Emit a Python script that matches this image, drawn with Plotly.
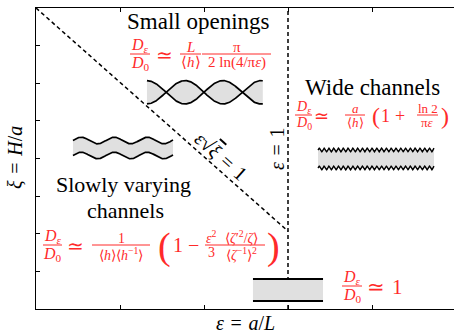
import numpy as np
import plotly.graph_objects as go

# ---- regime diagram geometry (axis units) ----
X_TICKS = [0, 1, 2, 3, 4, 5]
Y_TICKS = [0, 1, 2, 3, 4, 5, 6, 7, 8]
X_MAX = 418 / 84
Y_MAX = 8

EPS_ONE = 3.0                 # position of the  eps = 1  boundary
DIAG_X = [0.0, 3.0]           # eps*sqrt(xi) = 1 boundary
DIAG_Y = [8.0, 2.07]

# channel sketches: x-extent, wall centres, wall amplitude, wavelength
PINCHED = dict(x=[1.321, 2.70], centre=5.76, amp=0.31, wavelength=0.905)
SLOW = dict(x=[0.44, 1.631], top=4.478, bottom=4.080, amp=0.088, wavelength=0.393)
WIDE = dict(x=[3.357, 4.738], top=4.226, bottom=3.748, amp=0.05, wavelength=0.057)
FLAT = dict(x=[2.583, 3.417], top=0.797, bottom=0.213)

W, H = 454, 336
L_, R_, T_, B_ = 36, 454, 8, 309

RED = "#ff2a2a"
GRAY = "#e0e0e0"
SERIF = "Liberation Serif, Times New Roman, serif"
SP = "\u2004"   # medium math space around relations

fig = go.Figure()


def line_trace(x, y, **kw):
    fig.add_trace(go.Scatter(x=x, y=y, mode="lines", hoverinfo="skip", showlegend=False, **kw))


# boundaries
line_trace([EPS_ONE, EPS_ONE], [0, Y_MAX], line=dict(color="black", width=1.5, dash="4px,3px"))
line_trace(DIAG_X, DIAG_Y, line=dict(color="black", width=1.5, dash="4px,3px"))


def channel(x, lower, upper, lw=1.7):
    line_trace(x, lower, line=dict(color="black", width=lw))
    line_trace(x, upper, line=dict(color="black", width=lw), fill="tonexty", fillcolor=GRAY)


# pinched channel (small openings)
x = np.linspace(PINCHED["x"][0], PINCHED["x"][1], 300)
w = PINCHED["amp"] * np.cos(2 * np.pi * (x - x[0]) / PINCHED["wavelength"])
channel(x, PINCHED["centre"] - w, PINCHED["centre"] + w)

# slowly varying channel
x = np.linspace(SLOW["x"][0], SLOW["x"][1], 300)
s = SLOW["amp"] * np.sin(2 * np.pi * (x - x[0]) / SLOW["wavelength"])
channel(x, SLOW["bottom"] + s, SLOW["top"] + s)

# wide channel with fine roughness
x = np.linspace(WIDE["x"][0], WIDE["x"][1], 800)
s = WIDE["amp"] * np.sin(2 * np.pi * (x - x[0]) / WIDE["wavelength"])
channel(x, WIDE["bottom"] + s, WIDE["top"] + s, lw=1.4)

# flat channel
channel(FLAT["x"], [FLAT["bottom"]] * 2, [FLAT["top"]] * 2, lw=2)

# ---- text ----
annotations = []
shapes = []


def fx(px):
    return (px - L_) / (R_ - L_)


def fy(py):
    return (B_ - py) / (B_ - T_)


def label(px, py, text, size, color="black", angle=0, xanchor="center", yanchor="middle"):
    annotations.append(dict(x=fx(px), y=fy(py), xref="paper", yref="paper", text=text,
                            showarrow=False, textangle=angle, xanchor=xanchor, yanchor=yanchor,
                            borderpad=0, font=dict(family=SERIF, size=size, color=color)))


def frac(xc, ybar, x0, x1, num, den, size, color=RED):
    label(xc, ybar + 2, num, size, color, yanchor="bottom")
    label(xc, ybar - 1, den, size, color, yanchor="top")
    shapes.append(dict(type="line", xref="paper", yref="paper", x0=fx(x0), x1=fx(x1),
                       y0=fy(ybar), y1=fy(ybar), line=dict(color=color, width=1)))


DE = "<i>D</i><sub><i>ε</i></sub>"
D0 = "<i>D</i><sub>0</sub>"
H_AVG = "⟨<i>h</i>⟩"

# small openings
label(198, 22, "Small openings", 23)
frac(140, 54, 130, 150, DE, D0, 16)
label(164, 55, "≃", 20, RED)
frac(190.5, 54, 180, 201, "<i>L</i>", H_AVG, 15)
frac(237, 54, 202, 271, "π", "2 ln(4/π<i>ε</i>)", 15)

# wide channels
label(372, 88, "Wide channels", 23)
frac(303.5, 115, 295, 312, DE, D0, 14)
label(321, 116, "≃", 18, RED)
frac(355, 115, 345, 365, "<i>a</i>", H_AVG, 13)
label(376, 116, "(", 24, RED)
label(385, 116, "1", 18, RED)
label(400, 116, "+", 18, RED)
frac(427.5, 115, 417, 438, "ln 2", "π<i>ε</i>", 13)
label(445, 116, ")", 24, RED)

# slowly varying channels
label(123, 184, "Slowly varying", 22)
label(125, 210, "channels", 22)
frac(52.5, 245, 43, 62, DE, D0, 16)
label(75, 246, "≃", 20, RED)
frac(121, 245, 92, 150, "1", "⟨<i>h</i>⟩⟨<i>h</i><sup>−1</sup>⟩", 14)
label(164, 246, "(", 38, RED)
label(178, 245, "1", 20, RED)
label(193, 245, "−", 20, RED)
frac(211.5, 245, 205, 218, "<i>ε</i><sup>2</sup>", "3", 14)
frac(241.5, 245, 218, 265, "⟨<i>ζ</i>′<sup>2</sup>/<i>ζ</i>⟩", "⟨<i>ζ</i><sup>−1</sup>⟩<sup>2</sup>", 14)
label(273, 246, ")", 38, RED)

# straight channel
frac(352, 286, 342, 362, DE, D0, 16)
label(385, 287, "≃" + SP + "1", 21, RED)

# boundary labels
label(277, 149, "<i>ε</i>" + SP + "=" + SP + "1", 20, angle=-90)
label(221, 156, "<i>ε</i>√<span style='text-decoration:overline'><i>ξ</i></span>" + SP + "=" + SP + "1",
      20, angle=41.5)

# axis titles
label(245, 323, "<i>ε</i>" + SP + "=" + SP + "<i>a</i>/<i>L</i>", 20)
label(15, 158, "<i>ξ</i>" + SP + "=" + SP + "<i>H</i>/<i>a</i>", 20, angle=-90)

axis_common = dict(showgrid=False, zeroline=False, showticklabels=False, ticks="inside",
                   ticklen=4, tickwidth=1, tickcolor="black", showline=True,
                   linecolor="black", linewidth=1.3)

fig.update_layout(
    width=W, height=H, autosize=False,
    margin=dict(l=L_, r=W - R_, t=T_, b=H - B_),
    paper_bgcolor="white", plot_bgcolor="white",
    xaxis=dict(range=[0, X_MAX], tickvals=X_TICKS, mirror="ticks", **axis_common),
    yaxis=dict(range=[0, Y_MAX], tickvals=Y_TICKS, **axis_common),
    annotations=annotations, shapes=shapes, showlegend=False,
)

fig.write_html("out.html")
